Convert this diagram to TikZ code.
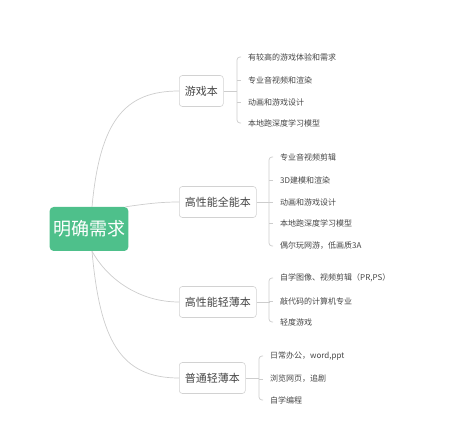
\documentclass[tikz,border=0pt]{standalone}
\usepackage{fontspec}
\setmainfont{Noto Sans CJK SC}
\usepackage{tikz}

\definecolor{rootgreen}{HTML}{4EC08B}
\definecolor{linegray}{HTML}{CDCDCD}
\definecolor{boxgray}{HTML}{D2D2D2}
\definecolor{textgray}{HTML}{454545}

\begin{document}
\begin{tikzpicture}[x=1pt, y=-1pt,
  root/.style={fill=rootgreen, text=white, rounded corners=4pt, minimum width=78pt, minimum height=44pt, font=\fontsize{18}{20}\selectfont},
  branch/.style={draw=boxgray, line width=0.6pt, rounded corners=3pt, text=textgray, minimum height=31pt, inner xsep=5.5pt, anchor=west, font=\fontsize{11}{13}\selectfont},
  leaf/.style={anchor=west, inner sep=0pt, text=textgray, font=\fontsize{8}{10}\selectfont},
  link/.style={draw=linegray, line width=0.7pt}]
\useasboundingbox (0,0) rectangle (450,446);

% root and branches
\node[root] (need) at (89,229) {明确需求};
\node[branch] (game) at (179,91) {游戏本};
\node[branch] (allround) at (179,202) {高性能全能本};
\node[branch] (slim) at (179,302) {高性能轻薄本};
\node[branch] (basic) at (179,378) {普通轻薄本};

% curves from the root
\draw[link] ([xshift=3pt]need.north) .. controls (100,120) and (125,91) .. (game.west);
\draw[link] ([xshift=-3pt]need.north east) .. controls (145,204) and (160,202) .. (allround.west);
\draw[link] ([xshift=3pt]need.south) .. controls (108,280) and (140,302) .. (slim.west);
\draw[link] ([xshift=3pt]need.south) .. controls (100,340) and (120,378) .. (basic.west);

% leaves
\node[leaf] (g1) at (248,57) {有较高的游戏体验和需求};
\node[leaf] (g2) at (248,80) {专业音视频和渲染};
\node[leaf] (g3) at (248,102) {动画和游戏设计};
\node[leaf] (g4) at (248,123) {本地跑深度学习模型};

\node[leaf] (a1) at (280,157) {专业音视频剪辑};
\node[leaf] (a2) at (280,180) {3D建模和渲染};
\node[leaf] (a3) at (280,202) {动画和游戏设计};
\node[leaf] (a4) at (280,223) {本地跑深度学习模型};
\node[leaf] (a5) at (280,246) {偶尔玩网游，低画质3A};

\node[leaf] (s1) at (280,278) {自学图像、视频剪辑（PR,PS）};
\node[leaf] (s2) at (280,301) {敲代码的计算机专业};
\node[leaf] (s3) at (280,322) {轻度游戏};

\node[leaf] (b1) at (270,356) {日常办公，word,ppt};
\node[leaf] (b2) at (270,379) {浏览网页，追剧};
\node[leaf] (b3) at (270,400) {自学编程};

% brackets
\draw[link] (game.east) -- ++(13,0);
\draw[link, rounded corners=3pt] ([xshift=-7pt]g1.west) -- ++(-4,0) |- ([xshift=-7pt]g4.west);
\draw[link] ([xshift=-7pt]g2.west) -- ++(-4,0);
\draw[link] ([xshift=-7pt]g3.west) -- ++(-4,0);

\draw[link] (allround.east) -- ++(13,0);
\draw[link, rounded corners=3pt] ([xshift=-7pt]a1.west) -- ++(-4,0) |- ([xshift=-7pt]a5.west);
\draw[link] ([xshift=-7pt]a2.west) -- ++(-4,0);
\draw[link] ([xshift=-7pt]a3.west) -- ++(-4,0);
\draw[link] ([xshift=-7pt]a4.west) -- ++(-4,0);

\draw[link] (slim.east) -- ++(13,0);
\draw[link, rounded corners=3pt] ([xshift=-7pt]s1.west) -- ++(-4,0) |- ([xshift=-7pt]s3.west);
\draw[link] ([xshift=-7pt]s2.west) -- ++(-4,0);

\draw[link] (basic.east) -- ++(13,0);
\draw[link, rounded corners=3pt] ([xshift=-7pt]b1.west) -- ++(-4,0) |- ([xshift=-7pt]b3.west);
\draw[link] ([xshift=-7pt]b2.west) -- ++(-4,0);
\end{tikzpicture}
\end{document}
